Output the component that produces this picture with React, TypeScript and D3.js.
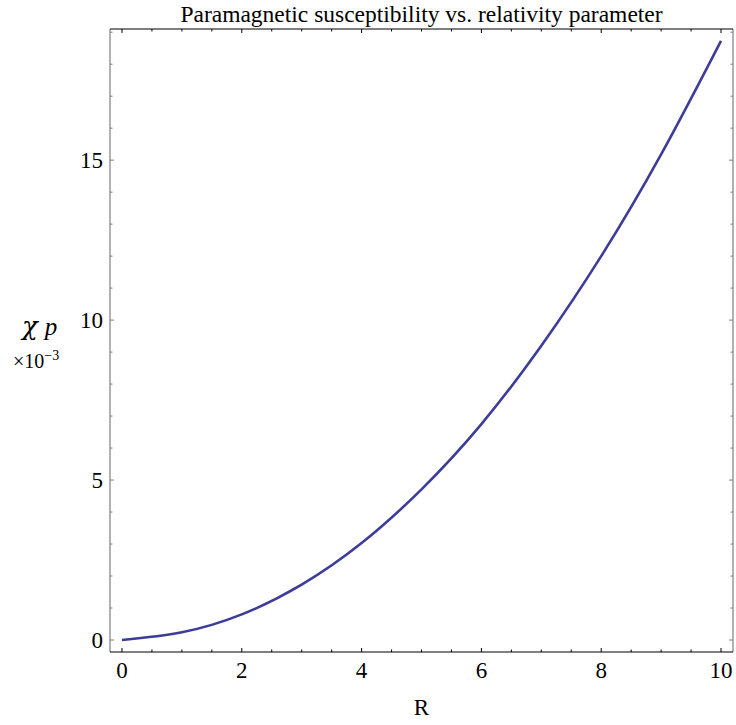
import React, { useEffect, useRef } from 'react';
import * as d3 from 'd3';

// values (chi_p in units of 1e-3)
const rValues = [0, 1, 2, 3, 4, 5, 6, 7, 8, 9, 10];
const chiValues = [0, 0.24, 0.8, 1.73, 3.03, 4.71, 6.75, 9.2, 12.0, 15.18, 18.73];

const xMajorTicks = [0, 2, 4, 6, 8, 10];
const xMinorTicks = d3.range(0, 10.01, 0.5);
const yMajorTicks = [0, 5, 10, 15];
const yMinorTicks = d3.range(0, 20, 1);

const title = 'Paramagnetic susceptibility vs. relativity parameter';
const xLabel = 'R';

const App: React.FC = () => {
  const chartRef = useRef<SVGSVGElement | null>(null);

  useEffect(() => {
    if (!chartRef.current) return;
    document.body.style.margin = '0';

    const width = 736;
    const height = 725;
    const margin = { top: 29, right: 3, bottom: 73, left: 110 };
    const font = '"Liberation Serif", "Times New Roman", serif';

    const svg = d3.select(chartRef.current);
    svg.selectAll('*').remove();
    svg.attr('width', width).attr('height', height);

    const x = d3
      .scaleLinear()
      .domain([-0.2, 10.2])
      .range([margin.left, width - margin.right]);
    const y = d3
      .scaleLinear()
      .domain([-0.375, 19.1])
      .range([height - margin.bottom, margin.top]);

    const [x0, x1] = x.range();
    const [y0, y1] = y.range();
    const gray = '#7f7f7f';

    // curve
    const data = rValues.map((r, i) => ({ r, v: chiValues[i] }));
    const line = d3
      .line<{ r: number; v: number }>()
      .x((d) => x(d.r))
      .y((d) => y(d.v))
      .curve(d3.curveNatural);

    svg
      .append('path')
      .datum(data)
      .attr('d', line)
      .attr('fill', 'none')
      .attr('stroke', '#3d3d99')
      .attr('stroke-width', 2.6);

    // frame
    svg.append('line').attr('x1', x0).attr('x2', x0).attr('y1', y0).attr('y2', y1).attr('stroke', gray).attr('stroke-width', 1.2);
    svg.append('line').attr('x1', x1).attr('x2', x1).attr('y1', y0).attr('y2', y1).attr('stroke', gray).attr('stroke-width', 1.2);
    svg.append('line').attr('x1', x0).attr('x2', x1).attr('y1', y0).attr('y2', y0).attr('stroke', '#000').attr('stroke-width', 1.2);
    svg.append('line').attr('x1', x0).attr('x2', x1).attr('y1', y1).attr('y2', y1).attr('stroke', '#000').attr('stroke-width', 1.2);

    // x ticks (bottom and top, inward)
    xMinorTicks.forEach((t) => {
      const len = xMajorTicks.includes(t) ? 4 : 2.5;
      svg.append('line').attr('x1', x(t)).attr('x2', x(t)).attr('y1', y0).attr('y2', y0 - len).attr('stroke', '#000');
      svg.append('line').attr('x1', x(t)).attr('x2', x(t)).attr('y1', y1).attr('y2', y1 + len).attr('stroke', '#000');
    });

    // y ticks (left and right, inward)
    yMinorTicks.forEach((t) => {
      const len = yMajorTicks.includes(t) ? 4 : 2.5;
      svg.append('line').attr('x1', x0).attr('x2', x0 + len).attr('y1', y(t)).attr('y2', y(t)).attr('stroke', gray);
      svg.append('line').attr('x1', x1).attr('x2', x1 - len).attr('y1', y(t)).attr('y2', y(t)).attr('stroke', gray);
    });

    // tick labels
    svg
      .selectAll('.xlab')
      .data(xMajorTicks)
      .enter()
      .append('text')
      .attr('x', (d) => x(d))
      .attr('y', y0 + 26)
      .attr('text-anchor', 'middle')
      .style('font-family', font)
      .style('font-size', '23px')
      .text((d) => d);

    svg
      .selectAll('.ylab')
      .data(yMajorTicks)
      .enter()
      .append('text')
      .attr('x', x0 - 7)
      .attr('y', (d) => y(d))
      .attr('dy', '0.35em')
      .attr('text-anchor', 'end')
      .style('font-family', font)
      .style('font-size', '23px')
      .text((d) => d);

    // title
    svg
      .append('text')
      .attr('x', (x0 + x1) / 2)
      .attr('y', 22)
      .attr('text-anchor', 'middle')
      .style('font-family', font)
      .style('font-size', '23.5px')
      .text(title);

    // x label
    svg
      .append('text')
      .attr('x', (x0 + x1) / 2)
      .attr('y', 715)
      .attr('text-anchor', 'middle')
      .style('font-family', font)
      .style('font-size', '23px')
      .text(xLabel);

    // y label: chi_p  x10^-3
    const yl = svg
      .append('text')
      .attr('x', 22)
      .attr('y', 335)
      .style('font-family', '"DejaVu Serif", "Liberation Serif", serif')
      .style('font-style', 'italic');
    yl.append('tspan').style('font-size', '26px').text('χ');
    yl.append('tspan')
      .attr('dx', 7)
      .style('font-family', font)
      .style('font-size', '25px')
      .text('p');

    const ex = svg
      .append('text')
      .attr('x', 13)
      .attr('y', 368)
      .style('font-family', font)
      .style('font-size', '20px');
    ex.append('tspan').text('×10');
    ex.append('tspan').attr('dy', -8).style('font-size', '14px').text('−3');
  }, []);

  return (
    <svg
      ref={chartRef}
      style={{ display: 'block', position: 'absolute', left: 0, top: 0, background: '#fff' }}
    ></svg>
  );
};

export default App;
